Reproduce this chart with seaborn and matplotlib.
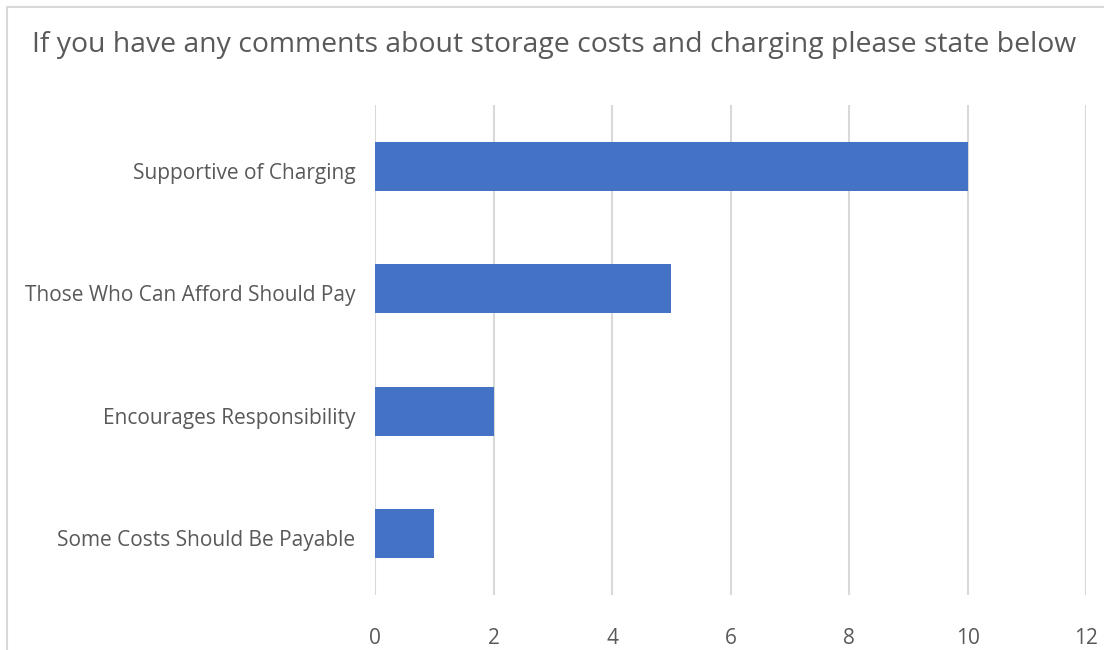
import matplotlib
matplotlib.use("Agg")
import matplotlib.pyplot as plt
from matplotlib.patches import Rectangle
from matplotlib.transforms import ScaledTranslation
import seaborn as sns
import pandas as pd

categories = [
    "Supportive of Charging",
    "Those Who Can Afford Should Pay",
    "Encourages Responsibility",
    "Some Costs Should Be Payable",
]
counts = [10, 5, 2, 1]
x_ticks = [0, 2, 4, 6, 8, 10, 12]
title = "If you have any comments about storage costs and charging please state below"

sns.set_theme(style="white")
plt.rcParams["font.family"] = ["Open Sans", "DejaVu Sans"]

df = pd.DataFrame({"category": categories, "count": counts})

fig = plt.figure(figsize=(11.04, 6.5), dpi=100)
ax = fig.add_axes([0.3397, 0.0846, 0.6440, 0.7538])

sns.barplot(data=df, x="count", y="category", orient="h", color="#4472C4",
            saturation=1, width=0.40, linewidth=0, ax=ax, zorder=3)

ax.set_xlim(0, 12)
ax.set_ylim(3.5, -0.5)
ax.set_xticks(x_ticks)
ax.set_xticklabels([str(t) for t in x_ticks])
ax.grid(axis="x", color="#D9D9D9", linewidth=1.5, zorder=0)
ax.grid(axis="y", visible=False)
for s in ax.spines.values():
    s.set_visible(False)
ax.set_xlabel("")
ax.set_ylabel("")
ax.tick_params(axis="both", length=0, labelsize=15, labelcolor="#595959")
ax.tick_params(axis="x", pad=24)
ax.tick_params(axis="y", pad=14)

# nudge category labels down a little so they sit level with the bar centres
shift = ScaledTranslation(0, -4.5 / 100, fig.dpi_scale_trans)
for lbl in ax.get_yticklabels():
    lbl.set_transform(lbl.get_transform() + shift)

fig.text(0.502, 0.931, title, ha="center", va="center", fontsize=20.4, color="#595959")

# chart-area frame
fig.patches.append(Rectangle((0.0065, -0.1), 1.2, 1.0887, transform=fig.transFigure,
                             fill=False, edgecolor="#D9D9D9", linewidth=1.5, zorder=0))

fig.savefig("out.png", dpi=100, facecolor="white")
